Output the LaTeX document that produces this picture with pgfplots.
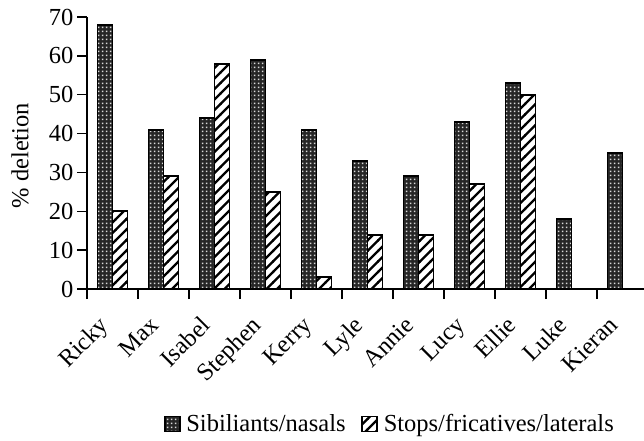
\documentclass[border=0pt]{standalone}
\usepackage{pgfplots}
\pgfplotsset{compat=1.18}
\usepackage{fontspec}
\setmainfont{Liberation Serif}
\usetikzlibrary{patterns}
\pgfdeclarepatternformonly{hatchx}{\pgfqpoint{-1pt}{-1pt}}{\pgfqpoint{12pt}{12pt}}{\pgfqpoint{10.5pt}{10.5pt}}{%
  \pgfsetlinewidth{2.2pt}%
  \pgfpathmoveto{\pgfqpoint{-0.5pt}{-0.5pt}}%
  \pgfpathlineto{\pgfqpoint{11pt}{11pt}}%
  \pgfusepath{stroke}}
\pgfdeclarepatternformonly{sdots}{\pgfqpoint{0pt}{0pt}}{\pgfqpoint{3.6pt}{3.6pt}}{\pgfqpoint{3.6pt}{3.6pt}}{%
  \pgfpathrectangle{\pgfqpoint{1pt}{1pt}}{\pgfqpoint{1.6pt}{1.6pt}}%
  \pgfusepath{fill}}
\begin{document}
\begin{tikzpicture}
\path[use as bounding box] (-87pt,-151pt) rectangle (557pt,289pt);
\begin{axis}[
  at={(0pt,0pt)}, anchor=south west,
  scale only axis, width=561pt, height=272pt,
  font=\fontsize{24.5}{28}\selectfont,
  /pgf/number format/assume math mode=true,
  ybar=0pt, bar width=15pt,
  xmin=-0.5, xmax=10.5, ymin=0, ymax=70,
  enlargelimits=false,
  axis x line*=bottom, axis y line*=left,
  axis line style={line width=1.8pt},
  ytick={0,10,...,70},
  tick align=outside,
  major tick length=10pt,
  tick style={line width=1.5pt, black},
  xtick={-0.5,0.5,...,10.5},
  xticklabels={Ricky,Max,Isabel,Stephen,Kerry,Lyle,Annie,Lucy,Ellie,Luke,Kieran,{}},
  xticklabel style={xshift=10.5pt, yshift=-13pt, rotate=45, anchor=north east, inner sep=2pt},
  ylabel={\% deletion},
  ylabel style={at={(axis description cs:-0.1194,0.49)}, anchor=center},
  legend style={draw=none, at={(0.540,-0.496)}, anchor=center,
    legend columns=2,
    /tikz/every odd column/.append style={column sep=4pt},
    /tikz/every even column/.append style={column sep=14pt},
    font=\fontsize{24.5}{28}\selectfont},
  legend image code/.code={\draw[#1,/tikz/.cd,line width=1.2pt] (0pt,-7.5pt) rectangle (15pt,7.5pt);},
]
\addplot[draw=black, line width=1.8pt, preaction={fill=black!85}, pattern=sdots, pattern color=black!15]
  coordinates {(0,68) (1,41) (2,44) (3,59) (4,41) (5,33) (6,29) (7,43) (8,53) (9,18) (10,35)};
\addplot[draw=black, line width=1.8pt, preaction={fill=white}, pattern=hatchx, pattern color=black]
  coordinates {(0,20) (1,29) (2,58) (3,25) (4,3) (5,14) (6,14) (7,27) (8,50)};
\legend{Sibiliants/nasals, Stops/fricatives/laterals}
\end{axis}
\end{tikzpicture}
\end{document}
